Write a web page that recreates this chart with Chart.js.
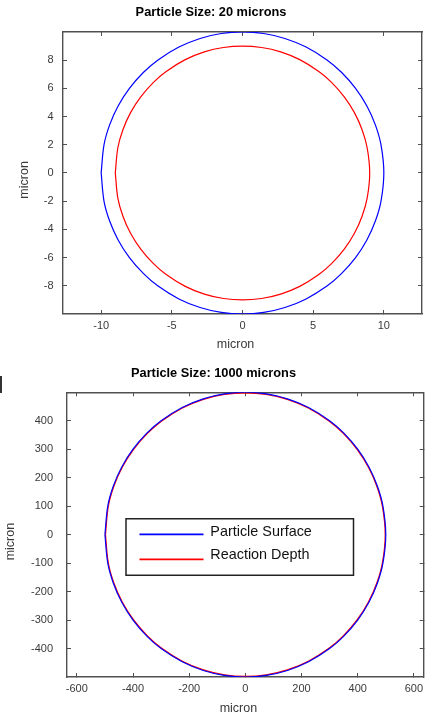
<!DOCTYPE html>
<html lang="en">
<head>
<meta charset="UTF-8">
<title>Particle Size</title>
<style>
  body { margin: 0; background: #fff; width: 433px; height: 717px; position: relative; overflow: hidden; }
  .wrap { position: absolute; left: 0; }
  .wrap canvas { display: block; }
  #top { top: 0; }
  #bottom { top: 358px; }
  .mark { position: absolute; left: 0; top: 376px; width: 2px; height: 17px; background: #333; }
</style>
</head>
<body>
<div class="wrap" id="top"><canvas id="chart20" width="433" height="358"></canvas></div>
<div class="wrap" id="bottom"><canvas id="chart1000" width="433" height="359"></canvas></div>
<div class="mark"></div>
<script src="https://cdn.jsdelivr.net/npm/chart.js"></script>
<script>
// series names + colours
const seriesLabels = ['Particle Surface', 'Reaction Depth'];
const seriesColors = ['#0000ff', '#ff0000'];

// 20 micron particle (closed outlines)
const surface20X = [-10,-9.8,-9.4,-8.8,-8,-7,-6,-4.5,-3,-1.5,0,1.5,3,4.5,6,7,8,8.8,9.4,9.8,10,9.8,9.4,8.8,8,7,6,4.5,3,1.5,0,-1.5,-3,-4.5,-6,-7,-8,-8.8,-9.4,-9.8,-10];
const surface20Y = [0,1.99,3.41,4.75,6,7.14,8,8.93,9.54,9.89,10,9.89,9.54,8.93,8,7.14,6,4.75,3.41,1.99,0,-1.99,-3.41,-4.75,-6,-7.14,-8,-8.93,-9.54,-9.89,-10,-9.89,-9.54,-8.93,-8,-7.14,-6,-4.75,-3.41,-1.99,0];
const depth20X = [-9,-8.82,-8.46,-7.92,-7.2,-6.3,-5.4,-4.05,-2.7,-1.35,0,1.35,2.7,4.05,5.4,6.3,7.2,7.92,8.46,8.82,9,8.82,8.46,7.92,7.2,6.3,5.4,4.05,2.7,1.35,0,-1.35,-2.7,-4.05,-5.4,-6.3,-7.2,-7.92,-8.46,-8.82,-9];
const depth20Y = [0,1.79,3.07,4.28,5.4,6.43,7.2,8.04,8.59,8.9,9,8.9,8.59,8.04,7.2,6.43,5.4,4.28,3.07,1.79,0,-1.79,-3.07,-4.28,-5.4,-6.43,-7.2,-8.04,-8.59,-8.9,-9,-8.9,-8.59,-8.04,-7.2,-6.43,-5.4,-4.28,-3.07,-1.79,0];
const ticks20X = [-10, -5, 0, 5, 10];
const ticks20Y = [-8, -6, -4, -2, 0, 2, 4, 6, 8];

// 1000 micron particle
const surface1000X = [-500,-490,-470,-440,-400,-350,-300,-225,-150,-75,0,75,150,225,300,350,400,440,470,490,500,490,470,440,400,350,300,225,150,75,0,-75,-150,-225,-300,-350,-400,-440,-470,-490,-500];
const surface1000Y = [0,99.5,170.6,237.5,300,357.1,400,446.5,477,494.3,500,494.3,477,446.5,400,357.1,300,237.5,170.6,99.5,0,-99.5,-170.6,-237.5,-300,-357.1,-400,-446.5,-477,-494.3,-500,-494.3,-477,-446.5,-400,-357.1,-300,-237.5,-170.6,-99.5,0];
const depth1000X = [-498,-488,-468.1,-438.2,-398.4,-348.6,-298.8,-224.1,-149.4,-74.7,0,74.7,149.4,224.1,298.8,348.6,398.4,438.2,468.1,488,498,488,468.1,438.2,398.4,348.6,298.8,224.1,149.4,74.7,0,-74.7,-149.4,-224.1,-298.8,-348.6,-398.4,-438.2,-468.1,-488,-498];
const depth1000Y = [0,99.1,169.9,236.6,298.8,355.6,398.4,444.7,475.1,492.4,498,492.4,475.1,444.7,398.4,355.6,298.8,236.6,169.9,99.1,0,-99.1,-169.9,-236.6,-298.8,-355.6,-398.4,-444.7,-475.1,-492.4,-498,-492.4,-475.1,-444.7,-398.4,-355.6,-298.8,-236.6,-169.9,-99.1,0];
const ticks1000X = [-600, -400, -200, 0, 200, 400, 600];
const ticks1000Y = [-400, -300, -200, -100, 0, 100, 200, 300, 400];

const axisColor = '#505050';
const textColor = '#3a3a3a';

Chart.defaults.font.family = '"Liberation Sans", Arial, sans-serif';
Chart.defaults.color = textColor;

function points(xs, ys) {
  return xs.map((x, i) => ({ x: x, y: ys[i] }));
}

function fixTicks(vals) {
  return scale => { scale.ticks = vals.map(v => ({ value: v })); };
}

// box legend drawn inside the plot (matlab style)
const boxLegend = {
  id: 'boxLegend',
  afterDatasetsDraw(chart) {
    if (!chart.options.plugins.boxLegend) return;
    const a = chart.chartArea;
    const ctx = chart.ctx;
    const left = a.left + 59, top = a.top + 126.5, w = 227.5, h = 56.5;
    const lineY = [15.6, 40.6];
    const textY = [17.3, 40.3];
    ctx.save();
    ctx.fillStyle = '#fff';
    ctx.fillRect(left, top, w, h);
    ctx.strokeStyle = '#222';
    ctx.lineWidth = 1.5;
    ctx.strokeRect(left, top, w, h);
    chart.data.datasets.forEach((ds, i) => {
      ctx.strokeStyle = ds.borderColor;
      ctx.lineWidth = 1.6;
      ctx.beginPath();
      ctx.moveTo(left + 13.5, top + lineY[i]);
      ctx.lineTo(left + 77.5, top + lineY[i]);
      ctx.stroke();
      ctx.fillStyle = '#111';
      ctx.font = '14.4px "Liberation Sans", Arial, sans-serif';
      ctx.textAlign = 'left';
      ctx.textBaseline = 'alphabetic';
      ctx.fillText(ds.label, left + 84.3, top + textY[i]);
    });
    ctx.restore();
  }
};

function makeChart(id, c) {
  const inner = { drawOnChartArea: false, drawTicks: true, tickLength: -4, color: axisColor, lineWidth: 1 };
  const edge = { display: true, color: axisColor, width: 1.4 };
  const datasets = c.series.map((s, i) => ({
    label: seriesLabels[i],
    data: points(s[0], s[1]),
    borderColor: seriesColors[i],
    borderWidth: 1.2,
    showLine: true,
    tension: 0.33, // smooth the outline between the read points
    pointRadius: 0,
    fill: false
  }));
  return new Chart(document.getElementById(id), {
    type: 'scatter',
    data: { datasets: datasets },
    options: {
      responsive: false,
      animation: false,
      devicePixelRatio: 1,
      layout: { padding: { left: 0, right: c.padRight, top: 0, bottom: 0 } },
      plugins: {
        legend: { display: false },
        tooltip: { enabled: false },
        boxLegend: c.legend,
        title: {
          display: true,
          text: c.title,
          color: '#000',
          font: { size: 12.8, weight: 'bold' },
          padding: { top: c.titleTop, bottom: c.titleBottom }
        }
      },
      scales: {
        x: {
          type: 'linear', position: 'bottom', min: c.xMin, max: c.xMax,
          grid: inner, border: edge,
          afterBuildTicks: fixTicks(c.xTicks),
          ticks: { padding: c.xTickPad, color: textColor, font: { size: 11 }, maxRotation: 0, autoSkip: false },
          title: { display: true, text: 'micron    ', color: textColor, font: { size: 12.5 }, padding: { top: 0, bottom: c.xTitlePad } },
          afterFit: s => { s.height = c.xHeight; }
        },
        xTop: {
          type: 'linear', position: 'top', min: c.xMin, max: c.xMax,
          grid: inner, border: edge,
          afterBuildTicks: fixTicks(c.xTicks),
          ticks: { display: false },
          afterFit: s => { s.height = 0; }
        },
        y: {
          type: 'linear', position: 'left', min: c.yMin, max: c.yMax,
          grid: inner, border: edge,
          afterBuildTicks: fixTicks(c.yTicks),
          ticks: { padding: c.yTickPad, color: textColor, font: { size: 11 }, autoSkip: false },
          title: { display: true, text: 'micron    ', color: textColor, font: { size: 12.5 }, padding: { top: c.yTitlePad, bottom: 0 } },
          afterFit: s => { s.width = c.yWidth; }
        },
        yRight: {
          type: 'linear', position: 'right', min: c.yMin, max: c.yMax,
          grid: inner, border: edge,
          afterBuildTicks: fixTicks(c.yTicks),
          ticks: { display: false },
          afterFit: s => { s.width = 0; }
        }
      }
    },
    plugins: [boxLegend]
  });
}

makeChart('chart20', {
  title: 'Particle Size: 20 microns',
  series: [[surface20X, surface20Y], [depth20X, depth20Y]],
  xMin: -12.7, xMax: 12.7, yMin: -10, yMax: 10,
  xTicks: ticks20X, yTicks: ticks20Y,
  titleTop: 4.7, titleBottom: 11.9,
  padRight: 11, yWidth: 63, xHeight: 44,
  xTickPad: 9.5, yTickPad: 13.5, xTitlePad: 5.5, yTitlePad: 17.5,
  legend: false
});

makeChart('chart1000', {
  title: 'Particle Size: 1000 microns',
  series: [[surface1000X, surface1000Y], [depth1000X, depth1000Y]],
  xMin: -635, xMax: 635, yMin: -500, yMax: 500,
  xTicks: ticks1000X, yTicks: ticks1000Y,
  titleTop: 7.6, titleBottom: 11.3,
  padRight: 6, yWidth: 67, xHeight: 40,
  xTickPad: 9.7, yTickPad: 18, xTitlePad: 1.2, yTitlePad: 3.2,
  legend: true
});
</script>
</body>
</html>
